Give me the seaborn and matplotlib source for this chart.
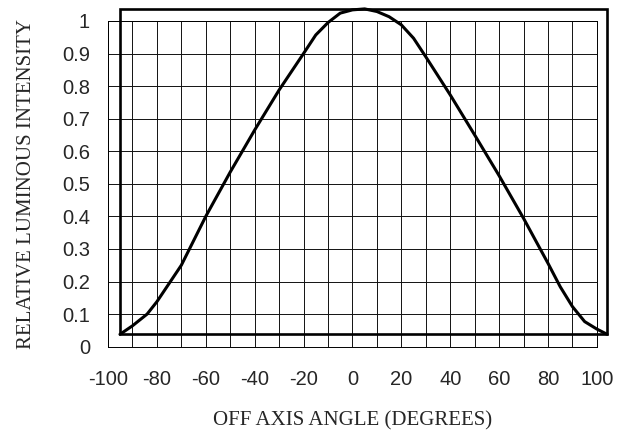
import seaborn as sns
import pandas as pd
import matplotlib.pyplot as plt
from matplotlib.patches import Rectangle

angle = [-95.1, -90, -84, -80, -70, -60, -50, -40, -30, -20, -15, -10, -5, 0,
         5, 10, 15, 20, 25, 30, 40, 50, 60, 70, 80, 85, 90, 95, 100, 104.2]
intensity = [0.038, 0.064, 0.10, 0.138, 0.25, 0.40, 0.536, 0.665, 0.788, 0.90,
             0.957, 0.995, 1.024, 1.034, 1.037, 1.029, 1.013, 0.988, 0.947, 0.89,
             0.773, 0.65, 0.525, 0.394, 0.256, 0.184, 0.123, 0.077, 0.054, 0.038]

x_ticks = list(range(-100, 101, 20))
y_ticks = [0, 0.1, 0.2, 0.3, 0.4, 0.5, 0.6, 0.7, 0.8, 0.9, 1]
y_ticklabels = ["0", "0.1", "0.2", "0.3", "0.4", "0.5", "0.6", "0.7", "0.8", "0.9", "1"]

# outer heavy frame of the original drawing
frame_x = (-95.1, 104.2)
frame_y = (0.038, 1.037)

data = pd.DataFrame({"angle": angle, "intensity": intensity})

sns.set_style("white")
plt.rcParams["font.family"] = ["Liberation Sans", "DejaVu Sans"]

fig = plt.figure(figsize=(6.26, 4.32), dpi=100)
ax = fig.add_axes([0.1725, 0.1975, 0.781, 0.754])

ax.set_xlim(-100, 100)
ax.set_ylim(0, 1)
ax.set_xticks(x_ticks)
ax.set_xticks(range(-100, 101, 10), minor=True)
ax.set_yticks(y_ticks)
ax.set_yticklabels(y_ticklabels)
ax.set_xticklabels([str(t) for t in x_ticks])
ax.grid(True, which="both", color="#111111", lw=0.7)
ax.tick_params(which="both", length=0)
ax.tick_params(axis="y", pad=13, labelsize=14.5)
ax.tick_params(axis="x", pad=17, labelsize=14.5)
for s in ax.spines.values():
    s.set_color("black")
    s.set_linewidth(0.7)

ax.add_patch(Rectangle((frame_x[0], frame_y[0]), frame_x[1] - frame_x[0],
                       frame_y[1] - frame_y[0], fill=False, ec="black",
                       lw=1.9, clip_on=False, zorder=4))

sns.lineplot(data=data, x="angle", y="intensity", sort=False, color="black",
             lw=2.2, ax=ax, clip_on=False, zorder=5)

ax.set_xlabel("OFF AXIS ANGLE (DEGREES)", family="Liberation Serif",
              fontsize=15, labelpad=16)
ax.set_ylabel("RELATIVE LUMINOUS INTENSITY", family="Liberation Serif",
              fontsize=15, labelpad=19)

fig.savefig("out.png", dpi=100)
